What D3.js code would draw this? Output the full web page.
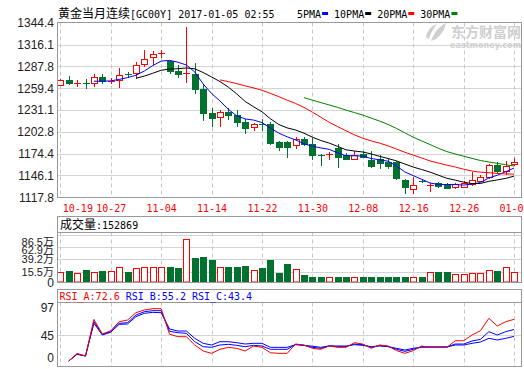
<!DOCTYPE html>
<html>
<head>
<meta charset="utf-8">
<script src="https://cdn.jsdelivr.net/npm/d3@7"></script>
<style>
  body { margin: 0; background: #fff; }
  svg { display: block; }
</style>
</head>
<body>
<svg id="chart" width="524" height="369"></svg>
<script>
// daily candles, 2016-10-19 .. 2017-01-04
const dates = ["10-19","10-20","10-21","10-24","10-25","10-26","10-27","10-28","10-31","11-01",
  "11-02","11-03","11-04","11-07","11-08","11-09","11-10","11-11","11-14","11-15",
  "11-16","11-17","11-18","11-21","11-22","11-23","11-24","11-25","11-28","11-29",
  "11-30","12-01","12-02","12-05","12-06","12-07","12-08","12-09","12-12","12-13",
  "12-14","12-15","12-16","12-19","12-20","12-21","12-22","12-23","12-26","12-27",
  "12-28","12-29","12-30","01-03","01-04"];

const open = [1264.0,1270.0,1266.3,1266.8,1266.1,1273.5,1268.5,1269.6,1278.3,1278.7,
  1290.3,1299.4,1305.3,1295.1,1282.1,1278.5,1277.8,1258.3,1227.2,1222.5,
  1228.5,1224.6,1215.5,1208.6,1212.6,1212.9,1189.6,1189.6,1185.7,1193.5,
  1187.0,1173.1,1173.0,1181.4,1173.1,1167.5,1174.0,1166.2,1167.1,1164.1,
  1164.1,1140.3,1128.2,1139.4,1134.0,1136.0,1134.7,1130.8,1131.6,1135.1,
  1139.5,1143.7,1159.7,1152.4,1160.4];
const high = [1271.0,1275.2,1270.0,1270.9,1277.8,1277.8,1273.0,1285.2,1280.8,1292.9,
  1308.9,1308.1,1308.9,1296.0,1289.5,1339.2,1292.5,1263.5,1233.2,1231.1,
  1233.7,1231.1,1218.9,1214.2,1219.8,1215.5,1191.3,1190.4,1196.5,1195.6,
  1194.3,1174.0,1177.0,1187.0,1174.9,1178.3,1177.4,1177.4,1172.7,1167.1,
  1165.4,1141.1,1144.5,1141.1,1136.0,1138.1,1136.9,1136.9,1139.5,1151.1,
  1146.8,1161.0,1164.1,1165.4,1168.4];
const low = [1263.0,1264.8,1261.8,1260.0,1262.7,1265.7,1265.7,1261.4,1274.0,1272.2,
  1288.6,1290.8,1299.4,1278.7,1273.5,1267.8,1252.7,1218.1,1210.3,1210.3,
  1219.8,1210.3,1201.7,1205.1,1204.7,1187.0,1179.2,1170.5,1182.2,1185.7,
  1168.0,1159.7,1167.1,1157.5,1167.1,1167.1,1169.6,1156.6,1155.4,1155.4,
  1141.1,1123.8,1123.8,1137.7,1126.4,1131.6,1129.6,1130.0,1130.8,1134.3,
  1138.6,1142.5,1149.8,1148.1,1159.3];
const close = [1269.6,1266.5,1266.7,1266.2,1273.5,1269.2,1268.9,1276.1,1277.8,1289.0,
  1296.8,1303.7,1305.6,1282.1,1277.4,1278.8,1258.3,1227.6,1220.7,1228.5,
  1224.6,1215.9,1207.7,1213.4,1212.3,1188.7,1183.5,1183.5,1193.5,1187.0,
  1172.7,1172.7,1174.3,1170.5,1167.9,1173.1,1170.5,1158.4,1162.7,1158.4,
  1142.5,1131.6,1134.3,1139.1,1134.3,1133.0,1130.4,1134.7,1136.0,1140.3,
  1143.7,1159.7,1152.4,1158.9,1164.2];

const volume = [155000,169000,124000,188000,155000,169000,169000,240000,155000,235000,
  240000,240000,240000,245000,227000,789000,426000,446000,382000,240000,
  245000,252000,265000,188000,225000,385000,136000,304000,200000,91000,
  58000,58000,46000,58000,58000,46000,58000,58000,58000,58000,
  58000,58000,46000,58000,155000,149000,142000,110000,110000,124000,
  124000,188000,169000,240000,152869];

const rsiA = [null,1,14,9.6,72.5,47.4,53,68.6,71.4,84,
  88.6,90.9,90.9,47,42.8,42.8,28.5,18.2,14.2,21.1,
  24.5,22.8,18.2,26.8,24.5,15.2,14.2,14.2,30.2,28.5,
  22.8,21.1,27,24.5,24.5,32.5,30.2,22.8,28.5,26.8,
  19,14.2,18.8,26.8,24.5,24.5,24.5,35.9,35.9,45.7,
  53.1,74.3,61.1,68.6,72.6];
const rsiB = [null,1,13,9.6,69,46.5,51.5,65.7,66.9,80,
  85.7,87.5,87.5,52,49.7,48.5,34.2,25.6,24.5,28.5,
  29.7,27.9,25.6,27.9,26.8,21.1,21.1,21.1,29.7,27.9,
  24.5,22.8,27,25.6,25.6,30.2,29.1,24.5,27.9,26.2,
  21.1,17.6,21.1,25.6,25,25,25,30.2,30.2,35.4,
  38.2,51.4,45.7,51.4,55.2];
const rsiC = [null,1,12.5,9.6,66,45.7,50.5,64,64.6,77.2,
  82.9,84.6,84,56,52.5,52.5,40,31.4,28.5,34.2,
  34.2,32.5,30.2,31.4,31.4,24.5,24.5,24.5,29.1,27.9,
  26.4,24.5,27,26.8,26.8,29.1,27.9,25.6,26.8,25.6,
  22.8,19.9,22.8,24.5,25.1,25.1,25.1,28.5,28.5,31.4,
  33.7,40,37.1,40,43.4];

const priceTicks = [1344.4,1316.1,1287.8,1259.4,1231.1,1202.8,1174.4,1146.1,1117.8];
const volTicks = [865000,629000,392000,155000];
const rsiTicks = [97,45,0];
const maPeriods = [5,10,20,30];
const maColors = ["#0000ff","#000000","#ff0000","#008000"];

const svg = d3.select("#chart");
const RED = "#ff0000", GREEN = "#00712f", GRID = "#d4d4d4", FRAME = "#999";
const MONO = "'DejaVu Sans Mono', 'Noto Sans CJK SC', monospace";
const CJK = "'Noto Sans CJK SC'";
const SANS = "'Liberation Sans', 'Noto Sans CJK SC', sans-serif";

const left = 57.5, right = 521.5;
const main = {top: 22.5, bottom: 197.5};
const vol = {top: 216.5, head: 232.5, bottom: 282.5};
const rsi = {top: 289.5, head: 302.5, bottom: 366.5};

const x = d3.scalePoint().domain(d3.range(dates.length)).range([60.3, 514.1]);
const px = i => Math.round(x(i));
const y = d3.scaleLinear().domain([1117.8, 1344.4]).range([197.3, 22.7]);
const yv = d3.scaleLinear().domain([155000, 865000]).range([271.7, 235.1]);
const yr = d3.scaleLinear().domain([0, 100]).range([361.6, 303.4]);

const up = i => close[i] >= open[i];
const gridIdx = d3.range(0, dates.length, 6);

// ---- grids
const grid = svg.append("g");
const hLine = yy => grid.append("line").attr("x1", left).attr("x2", right)
  .attr("y1", yy).attr("y2", yy).attr("stroke", GRID);
priceTicks.slice(1, -1).forEach(p => hLine(Math.round(y(p)) + 0.5));
volTicks.forEach(v => hLine(Math.round(yv(v)) + 0.5));
hLine(Math.round(yr(45)) + 0.5);
[[main.top, main.bottom], [vol.head, vol.bottom], [rsi.head, rsi.bottom]].forEach(([t, b]) => {
  grid.selectAll(null).data(gridIdx).join("line")
    .attr("x1", i => px(i) + 0.5).attr("x2", i => px(i) + 0.5)
    .attr("y1", t).attr("y2", b)
    .attr("stroke", "#c8c8c8").attr("stroke-dasharray", "4,3");
});

// ---- candles
const cg = svg.append("g").selectAll("g").data(d3.range(dates.length)).join("g");
cg.append("line")
  .attr("x1", i => px(i) + 0.5).attr("x2", i => px(i) + 0.5)
  .attr("y1", i => Math.round(y(high[i])))
  .attr("y2", i => Math.round(y(low[i])) + 1)
  .attr("stroke", i => up(i) ? RED : GREEN);
cg.each(function(i) {
  const g = d3.select(this);
  const yo = Math.round(y(open[i])), yc = Math.round(y(close[i]));
  const col = up(i) ? RED : GREEN;
  if (Math.abs(yo - yc) < 2) {
    g.append("line").attr("x1", px(i) - 3).attr("x2", px(i) + 4)
      .attr("y1", yc + 0.5).attr("y2", yc + 0.5).attr("stroke", col);
  } else if (up(i)) {
    g.append("rect").attr("x", px(i) - 2.5).attr("y", yc + 0.5)
      .attr("width", 6).attr("height", yo - yc)
      .attr("fill", "#fff").attr("stroke", RED);
  } else {
    g.append("rect").attr("x", px(i) - 3).attr("y", yo)
      .attr("width", 7).attr("height", yc - yo + 1).attr("fill", GREEN);
  }
});

// ---- moving averages (from the closes above)
const ma = n => close.map((c, i) => i < n - 1 ? null : d3.mean(close.slice(i - n + 1, i + 1)));
const priceLine = d3.line().defined(d => d != null).x((d, i) => x(i)).y(d => y(d));
maPeriods.forEach((n, k) => {
  svg.append("path").attr("d", priceLine(ma(n)))
    .attr("fill", "none").attr("stroke", maColors[k]).attr("stroke-width", 1);
});

// ---- volume bars
svg.append("g").selectAll("rect").data(d3.range(dates.length)).join("rect")
  .attr("x", i => up(i) ? px(i) - 2.5 : px(i) - 3)
  .attr("y", i => Math.round(yv(volume[i])) + (up(i) ? 0.5 : 0))
  .attr("width", i => up(i) ? 6 : 7)
  .attr("height", i => 282 - Math.round(yv(volume[i])) - (up(i) ? 0.5 : 0))
  .attr("fill", i => up(i) ? "#fff" : GREEN)
  .attr("stroke", i => up(i) ? RED : "none");

// ---- RSI
const rsiLine = d3.line().defined(d => d != null).x((d, i) => x(i)).y(d => yr(d));
[[rsiC, "#0000ff"], [rsiB, "#0000ff"], [rsiA, RED]].forEach(([s, c]) => {
  svg.append("path").attr("d", rsiLine(s)).attr("fill", "none").attr("stroke", c).attr("stroke-width", 1);
});

// ---- frames
const frame = svg.append("g").attr("fill", "none").attr("stroke", FRAME);
frame.append("rect").attr("x", left).attr("y", main.top).attr("width", right - left).attr("height", main.bottom - main.top);
frame.append("rect").attr("x", left).attr("y", vol.top).attr("width", right - left).attr("height", vol.bottom - vol.top);
frame.append("line").attr("x1", left).attr("x2", right).attr("y1", vol.head).attr("y2", vol.head);
frame.append("rect").attr("x", left).attr("y", rsi.top).attr("width", right - left).attr("height", rsi.bottom - rsi.top);
frame.append("line").attr("x1", left).attr("x2", right).attr("y1", rsi.head).attr("y2", rsi.head);

// ---- axes
const yAxis = svg.append("g").attr("transform", "translate(57,0)")
  .call(d3.axisLeft(y).tickValues(priceTicks).tickFormat(d3.format(".1f")).tickSize(0).tickPadding(3));
yAxis.select(".domain").remove();
yAxis.selectAll("text").attr("font-family", SANS).attr("font-size", 12).attr("fill", "#222");

const xAxis = svg.append("g").attr("transform", "translate(0,197)")
  .call(d3.axisBottom(x).tickValues(gridIdx).tickFormat(i => dates[i]).tickSize(0).tickPadding(8));
xAxis.select(".domain").remove();
xAxis.selectAll("text").attr("font-family", MONO).attr("font-size", 10).attr("fill", RED);
xAxis.select(".tick text").attr("text-anchor", "start").attr("x", 2);

// volume / rsi labels, pushed apart so they stay inside their panel
function sideLabels(values, scale, fmt, top, bottom, gap, size) {
  let prev = -Infinity;
  values.forEach(v => {
    const yy = Math.min(Math.max(scale(v), top, prev + gap), bottom);
    prev = yy;
    svg.append("text").attr("x", 54).attr("y", yy).attr("dy", "0.35em")
      .attr("text-anchor", "end").attr("font-family", SANS).attr("font-size", size).attr("fill", "#222")
      .text(fmt(v));
  });
}
sideLabels(volTicks, yv, v => d3.format(".1f")(v / 10000) + "万", vol.head + 10, vol.bottom, 8, 11);
sideLabels([0], () => vol.bottom, () => "0", 0, 999, 0, 12);
sideLabels(rsiTicks, yr, v => String(v), rsi.head + 5.5, rsi.bottom - 9, 8, 12);

// ---- titles and legends
const title = svg.append("text").attr("x", 58).attr("y", 17.5).attr("fill", "#000");
title.append("tspan").attr("font-family", CJK).attr("font-size", 12).text("黄金当月连续");
title.append("tspan").attr("font-family", MONO).attr("font-size", 10).text("[GC00Y] 2017-01-05 02:55");

let lx = 297;
maPeriods.forEach((n, k) => {
  const label = n + "PMA";
  svg.append("text").attr("x", lx).attr("y", 17.5).attr("font-family", MONO).attr("font-size", 10)
    .attr("fill", "#000").text(label);
  lx += label.length * 6.02 + 1;
  svg.append("rect").attr("x", lx).attr("y", 12).attr("width", 6).attr("height", 3).attr("fill", maColors[k]);
  lx += 6 + 6;
});

const vh = svg.append("text").attr("x", 60).attr("y", 228.5).attr("fill", "#000");
vh.append("tspan").attr("font-family", CJK).attr("font-size", 12).text("成交量");
vh.append("tspan").attr("font-family", MONO).attr("font-size", 10).text(":" + volume[volume.length - 1]);

const last = dates.length - 1;
let rx = 59.5;
[["RSI_A", rsiA, RED], ["RSI_B", rsiB, "#0000ff"], ["RSI_C", rsiC, "#0000ff"]].forEach(([name, s, c]) => {
  const label = name + ":" + s[last].toFixed(1);
  svg.append("text").attr("x", rx).attr("y", 300).attr("font-family", MONO).attr("font-size", 10)
    .attr("fill", c).text(label);
  rx += (label.length + 1) * 6.02;
});

// ---- watermark
const wm = svg.append("g").attr("fill", "#cfcfcf");
wm.append("path").attr("d", "M431,41 C434,33 438,27 446,23 C445,29 442,34 436,39 Z");
wm.append("path").attr("d", "M426,37 C427,31 431,26 437,24 C434,28 431,32 429,39 Z");
wm.append("text").attr("x", 451).attr("y", 36.5).attr("font-family", CJK).attr("font-size", 14)
  .attr("font-weight", "bold").attr("textLength", 70).text("东方财富网");
wm.append("text").attr("x", 450).attr("y", 47.5).attr("font-family", "'DejaVu Sans', sans-serif")
  .attr("font-size", 8).attr("font-weight", "bold").attr("textLength", 71).text("eastmoney.com");
</script>
</body>
</html>
